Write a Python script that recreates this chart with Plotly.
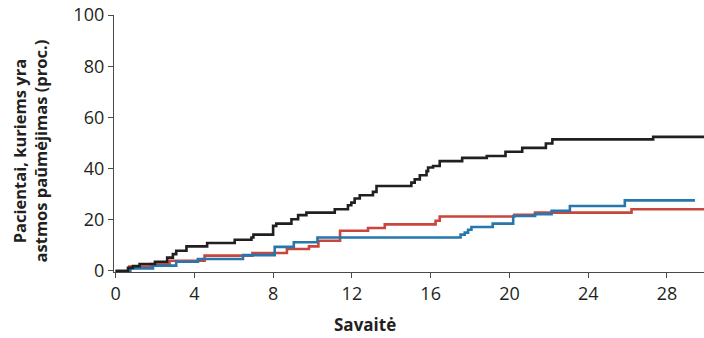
import plotly.graph_objects as go

# Week of each step change and the cumulative percentage reached at that step
black_x = [0, 0.63, 0.88, 1.22, 2.0, 2.62, 2.91, 3.08, 3.6, 4.65, 6.05, 6.9, 7.0, 8.0, 8.16,
           8.93, 9.27, 9.69, 11.13, 11.8, 11.97, 12.14, 12.4, 13.07, 13.25, 15.02, 15.19,
           15.45, 15.79, 15.87, 16.12, 16.46, 17.6, 18.85, 19.8, 20.65, 21.85, 22.18, 27.3, 29.88]
black_y = [0, 1.2, 1.9, 2.7, 3.6, 5.2, 6.6, 7.9, 9.6, 10.9, 12.2, 13.1, 14.2, 17.6, 18.5,
           20.2, 21.8, 22.8, 24.1, 25.7, 26.7, 28.3, 29.6, 30.9, 33.2, 34.5, 35.8,
           37.4, 39.0, 40.4, 41.0, 42.9, 44.2, 44.9, 46.6, 48.1, 49.8, 51.4, 52.4, 52.4]

blue_x = [0, 0.75, 1.9, 3.08, 4.18, 6.47, 8.08, 9.05, 10.25, 17.52, 17.73, 17.9, 18.07,
          19.15, 20.19, 21.3, 22.14, 23.07, 25.86, 29.42]
blue_y = [0, 1.0, 2.1, 3.6, 4.7, 6.2, 9.4, 11.2, 13.1, 14.2, 15.0, 16.1, 17.2,
          18.5, 21.5, 22.2, 23.5, 25.4, 27.6, 27.6]

red_x = [0, 0.7, 1.8, 2.74, 4.52, 6.95, 8.7, 9.82, 10.3, 11.4, 12.82, 13.67, 16.25, 16.46,
         20.25, 21.3, 26.2, 29.88]
red_y = [0, 1.7, 2.7, 4.0, 6.0, 7.0, 8.6, 9.6, 11.8, 15.7, 16.8, 18.2, 19.6, 21.3,
         21.9, 22.8, 24.1, 24.1]

x_ticks = [0, 4, 8, 12, 16, 20, 24, 28]
y_ticks = [0, 20, 40, 60, 80, 100]

y_title = "Pacientai, kuriems yra<br>astmos paūmėjimas (proc.)"
x_title = "Savaitė"

FONT = "Open Sans"
TXT = "#231f20"

fig = go.Figure()
for xs, ys, col in [(red_x, red_y, "#c9463d"), (blue_x, blue_y, "#2677ad"), (black_x, black_y, "#231f20")]:
    fig.add_trace(go.Scatter(x=xs, y=ys, mode="lines", line=dict(shape="hv", color=col, width=2.6),
                             showlegend=False, hoverinfo="skip"))

axis_common = dict(showline=True, linecolor="#4a4a4a", linewidth=1.3, ticks="outside",
                   ticklen=5, tickcolor="#4a4a4a", tickwidth=1.2, showgrid=False, zeroline=False,
                   tickfont=dict(family=FONT, size=18, color=TXT))

fig.update_layout(
    width=704, height=338,
    margin=dict(l=114, r=0, t=15, b=66),
    plot_bgcolor="white", paper_bgcolor="white",
    xaxis=dict(range=[-0.08, 29.88], tickvals=x_ticks, **axis_common),
    yaxis=dict(range=[-0.4, 100], tickvals=y_ticks, **axis_common),
    annotations=[
        dict(text=y_title, xref="paper", yref="paper", x=-0.142, y=0.47, textangle=-90,
             showarrow=False, xanchor="center", yanchor="middle",
             font=dict(family=FONT, size=16.5, color=TXT, weight="bold")),
        dict(text=x_title, xref="paper", yref="paper", x=0.425, y=-0.205,
             showarrow=False, xanchor="center", yanchor="middle",
             font=dict(family=FONT, size=17, color=TXT, weight="bold")),
    ],
)

fig.write_html("out.html")
